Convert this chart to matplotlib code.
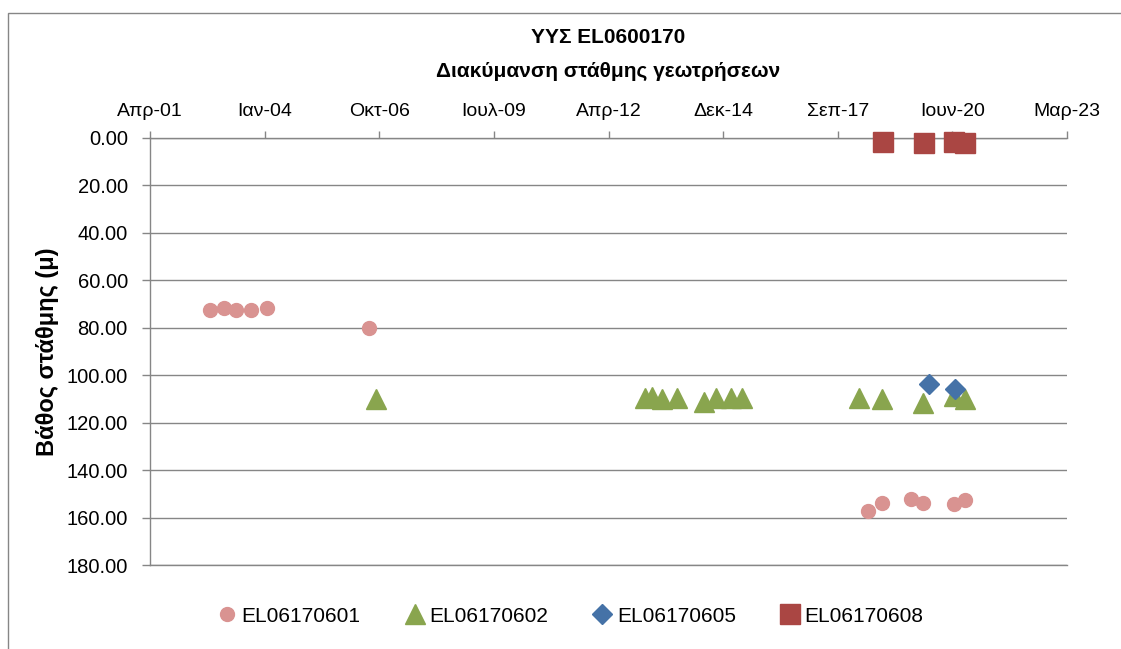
import numpy as np
import matplotlib
matplotlib.use("Agg")
import matplotlib.pyplot as plt
from matplotlib.patches import Rectangle

plt.rcParams['font.family'] = ['Liberation Sans', 'DejaVu Sans']

# Μετρήσεις βάθους στάθμης (m) ανά γεώτρηση
dates_601 = ['2002-09-22', '2003-01-22', '2003-05-07', '2003-09-20', '2004-02-04',
             '2006-07-10', '2018-06-17', '2018-10-17', '2019-06-22', '2019-10-10',
             '2020-07-06', '2020-10-04']
depth_601 = [72.4, 71.6, 72.4, 72.4, 71.8, 80.0, 157.2, 153.7, 152.3, 153.7, 154.4, 152.5]

dates_602 = ['2006-09-09', '2013-02-14', '2013-04-14', '2013-07-10', '2013-11-23',
             '2014-07-14', '2014-10-27', '2015-03-04', '2015-06-13', '2018-03-28',
             '2018-10-17', '2019-10-10', '2020-07-01', '2020-10-04']
depth_602 = [110.2, 109.6, 109.2, 110.0, 109.6, 111.4, 109.6, 109.4, 109.6, 109.6,
             110.2, 111.5, 108.6, 110.0]

dates_605 = ['2019-11-29', '2020-07-08']
depth_605 = [103.8, 105.7]

dates_608 = ['2018-10-19', '2019-10-14', '2020-07-06', '2020-10-03']
depth_608 = [1.9, 2.2, 1.8, 2.2]

series_names = ['EL06170601', 'EL06170602', 'EL06170605', 'EL06170608']
tick_labels = ['Απρ-01', 'Ιαν-04', 'Οκτ-06', 'Ιουλ-09', 'Απρ-12',
               'Δεκ-14', 'Σεπ-17', 'Ιουν-20', 'Μαρ-23']
depth_ticks = np.arange(0, 181, 20)

grey = '#868686'

fig = plt.figure(figsize=(11.21, 6.49), dpi=100)
ax = fig.add_axes([150 / 1121, 1 - 565.3 / 649, 917 / 1121, 427.6 / 649])

styles = [
    dict(marker='o', color='#D99391', ms=10),
    dict(marker='^', color='#89A54E', ms=14),
    dict(marker='D', color='#4572A7', ms=10),
    dict(marker='s', color='#AA4643', ms=14),
]
all_dates = [dates_601, dates_602, dates_605, dates_608]
all_depths = [depth_601, depth_602, depth_605, depth_608]

handles = []
for d, v, st, name in zip(all_dates, all_depths, styles, series_names):
    h, = ax.plot(np.array(d, dtype='datetime64[D]'), v, ls='none',
                 marker=st['marker'], ms=st['ms'], color=st['color'],
                 mec=st['color'], clip_on=False, zorder=3, label=name)
    handles.append(h)

# άξονας χρόνου επάνω, βήμα 1000 ημερών
start = np.datetime64('2001-04-19')
xticks = start + np.arange(len(tick_labels)) * np.timedelta64(1000, 'D')
ax.set_xlim(xticks[0], xticks[-1])
ax.xaxis.tick_top()
ax.set_xticks(xticks)
ax.set_xticklabels(tick_labels)

ax.set_ylim(180, 0)
ax.set_yticks(depth_ticks)
ax.set_yticklabels([f'{t:.2f}' for t in depth_ticks])

ax.yaxis.grid(True, color=grey, lw=1.0)
ax.set_axisbelow(True)
for side in ['top', 'left', 'bottom']:
    ax.spines[side].set_color(grey)
    ax.spines[side].set_linewidth(1.0)
ax.spines['right'].set_visible(False)

ax.tick_params(axis='x', direction='out', length=5, width=1.0, color=grey,
               pad=8, labelsize=14)
ax.tick_params(axis='y', direction='out', length=6, width=1.0, color=grey,
               pad=10, labelsize=14.5)

ax.set_ylabel('Βάθος στάθμης (μ)', fontsize=17, fontweight='bold')
ax.yaxis.set_label_coords(-0.099, 0.5)

fig.text(608.5 / 1121, 1 - 37.7 / 649, 'ΥΥΣ EL0600170', ha='center', va='center',
         fontsize=15, fontweight='bold')
fig.text(608.5 / 1121, 1 - 71.7 / 649, 'Διακύμανση στάθμης γεωτρήσεων',
         ha='center', va='center', fontsize=15, fontweight='bold')

fig.legend(handles=handles, loc='center', bbox_to_anchor=(571 / 1121, 1 - 616 / 649),
           ncol=4, frameon=False, fontsize=15, handlelength=0.8,
           handletextpad=0.3, columnspacing=2.2)

# περίγραμμα περιοχής γραφήματος
fig.patches.append(Rectangle((8 / 1121, -0.1), 1.2, 1 - 13 / 649 + 0.1,
                             transform=fig.transFigure, fill=False,
                             edgecolor=grey, lw=1.0))

fig.savefig('out.png', dpi=100)
